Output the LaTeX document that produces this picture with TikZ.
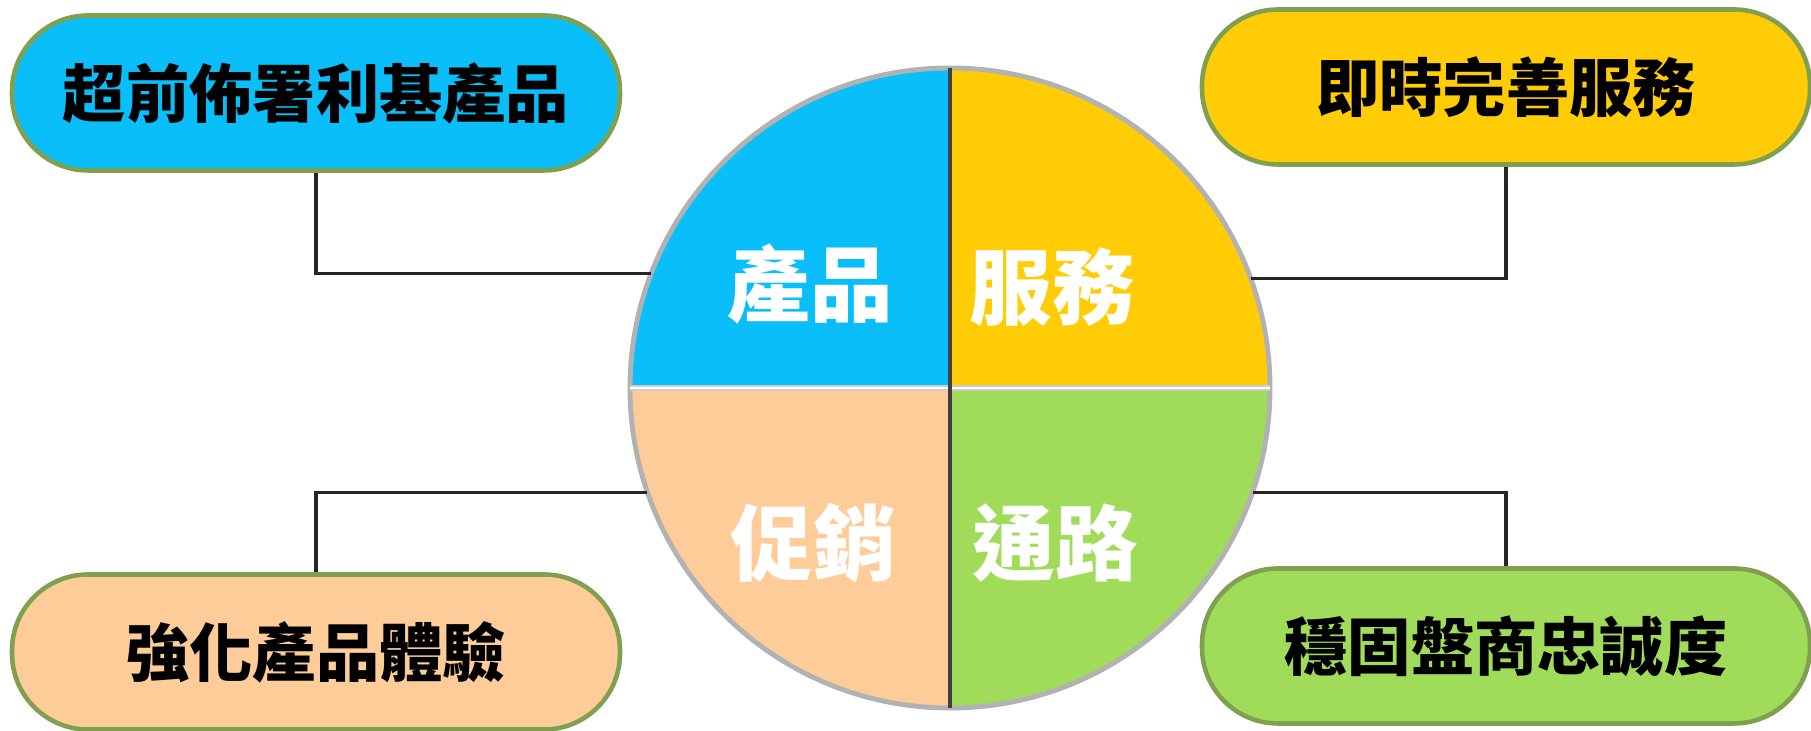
\documentclass[tikz,border=0pt]{standalone}
\usepackage{fontspec}
\newfontfamily\cjk{Noto Sans CJK TC}
\usepackage{tikz}

\definecolor{wheelBlue}{RGB}{10,190,250}
\definecolor{wheelYellow}{RGB}{255,204,5}
\definecolor{wheelPeach}{RGB}{253,204,153}
\definecolor{wheelGreen}{RGB}{160,220,90}
\definecolor{boxRim}{RGB}{128,160,80}

\begin{document}
\begin{tikzpicture}[
        x=0.1mm, y=0.1mm,
        goal/.style={rectangle, rounded corners=7.6mm, draw=boxRim, line width=1.3pt, minimum width=6.08cm, minimum height=1.55cm, font=\fontsize{18}{20}\selectfont\cjk\bfseries},
        quarter/.style={text=white, font=\fontsize{23.5}{26}\selectfont\cjk\bfseries},
        link/.style={draw=black!85, line width=0.9pt}
        ]
        \useasboundingbox (0,0) rectangle (1811,731);

        \node[circle, minimum size=6.4cm, inner sep=0pt, outer sep=0pt] (wheel) at (950,343) {};

        %Quadrants
        \fill[wheelBlue]   (wheel.center) -- (wheel.west)  arc[start angle=180, end angle=90,  radius=3.2cm] -- cycle;
        \fill[wheelYellow] (wheel.center) -- (wheel.north) arc[start angle=90,  end angle=0,   radius=3.2cm] -- cycle;
        \fill[wheelGreen]  (wheel.center) -- (wheel.east)  arc[start angle=0,   end angle=-90, radius=3.2cm] -- cycle;
        \fill[wheelPeach]  (wheel.center) -- (wheel.south) arc[start angle=270, end angle=180, radius=3.2cm] -- cycle;
        \draw[gray!60, line width=1.4pt] (wheel.center) circle[radius=3.2cm];
        \draw[gray!40, line width=1.5pt] (wheel.west) -- (wheel.east);
        \draw[white, line width=0.6pt]   (wheel.west) -- (wheel.east);
        \draw[black!75, line width=1pt]  (wheel.north) -- (wheel.south);

        \node[quarter]   (prodLabel)    at (810,447)    {產品};
        \node[quarter]   (servLabel)    at (1052,444)   {服務};
        \node[quarter]   (promoLabel)   at (813,188)    {促銷};
        \node[quarter]   (chanLabel)    at (1055,188)   {通路};

        %Goals
        \node[goal, fill=wheelBlue]   (prodBox)    at (316,638)    {超前佈署利基產品};
        \node[goal, fill=wheelYellow] (servBox)    at (1506,644)   {即時完善服務};
        \node[goal, fill=wheelPeach]  (promoBox)   at (316,79)     {強化產品體驗};
        \node[goal, fill=wheelGreen]  (chanBox)    at (1506,85)    {穩固盤商忠誠度};

        %Lines
        \draw[link] (prodBox.south)  |- (wheel.159.5);
        \draw[link] (servBox.south)  |- (wheel.20.1);
        \draw[link] (promoBox.north) |- (wheel.199);
        \draw[link] (chanBox.north)  |- (wheel.341);

    \end{tikzpicture}
\end{document}
